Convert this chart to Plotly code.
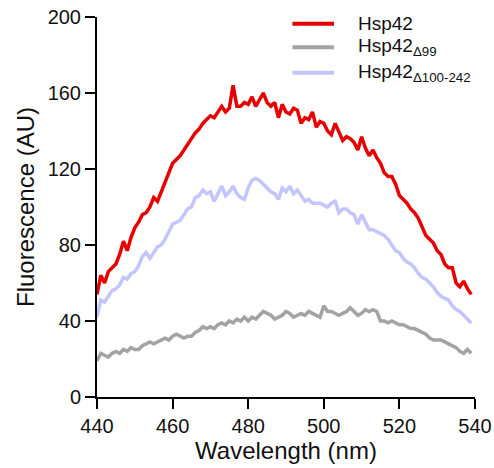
import plotly.graph_objects as go

wavelength = list(range(440, 540))

hsp42 = [54, 64, 60, 66, 68, 70, 75, 82, 77, 84,
         89, 92, 96, 97, 100, 105, 103, 108, 114, 118,
         123, 125, 127, 130, 133, 136, 139, 141, 144, 146,
         148, 147, 150, 153, 150, 152, 164, 153, 153, 155,
         154, 158, 153, 157, 160, 155, 153, 155, 147, 154,
         150, 149, 152, 151, 144, 147, 146, 150, 142, 145,
         144, 140, 138, 144, 139, 135, 137, 136, 134, 130,
         137, 131, 127, 130, 126, 123, 118, 116, 116, 112,
         106, 104, 102, 99, 97, 94, 90, 85, 83, 81,
         77, 75, 70, 68, 68, 60, 58, 61, 57, 54]

hsp42_d99 = [19, 23, 22, 21, 23, 24, 23, 25, 24, 26,
             25, 25, 27, 28, 29, 28, 29, 30, 31, 30,
             32, 33, 32, 31, 32, 32, 34, 35, 37, 36,
             37, 36, 38, 39, 38, 40, 39, 41, 40, 42,
             40, 42, 41, 43, 45, 44, 43, 41, 42, 43,
             45, 44, 42, 43, 44, 43, 45, 44, 43, 42,
             48, 45, 45, 44, 43, 44, 45, 47, 45, 43,
             44, 46, 45, 46, 45, 40, 40, 39, 40, 39,
             38, 38, 37, 36, 36, 35, 34, 33, 31, 30,
             30, 30, 29, 28, 27, 26, 24, 23, 25, 23]

hsp42_d100_242 = [42, 51, 50, 53, 56, 57, 59, 63, 62, 65,
                  66, 69, 74, 76, 73, 76, 79, 80, 83, 87,
                  91, 92, 93, 96, 99, 100, 105, 106, 109, 107,
                  108, 103, 107, 111, 106, 108, 111, 107, 105, 104,
                  110, 114, 115, 114, 112, 110, 108, 107, 104, 110,
                  108, 111, 107, 109, 106, 103, 104, 102, 102, 102,
                  101, 100, 102, 103, 97, 99, 99, 97, 96, 91,
                  96, 92, 88, 88, 87, 86, 85, 83, 80, 77,
                  76, 73, 71, 70, 68, 65, 63, 62, 60, 58,
                  55, 53, 52, 51, 48, 46, 45, 43, 41, 39]

series_names = ["Hsp42", "Hsp42<sub>Δ99</sub>", "Hsp42<sub>Δ100-242</sub>"]
series_colors = ["#e80000", "#a3a3a3", "#c4c4ff"]
series_values = [hsp42, hsp42_d99, hsp42_d100_242]

FONT = "Liberation Sans, Arial, sans-serif"
TXT = "#111111"

fig = go.Figure()
# draw gray and lavender first, red on top
for idx in [1, 2, 0]:
    fig.add_trace(go.Scatter(
        x=wavelength, y=series_values[idx], mode="lines",
        line=dict(color=series_colors[idx], width=3.5),
        name=series_names[idx], showlegend=False, cliponaxis=False,
    ))

# manual legend
leg_y = [196.5, 184.1, 170.6]
for name, color, yy in zip(series_names, series_colors, leg_y):
    fig.add_shape(type="line", xref="x", yref="y", x0=491.7, x1=502.7, y0=yy, y1=yy,
                  line=dict(color=color, width=4))
    fig.add_annotation(xref="x", yref="y", x=508.6, y=yy, text=name, showarrow=False,
                       xanchor="left", yanchor="middle",
                       font=dict(family=FONT, size=19, color=TXT))

fig.update_layout(
    width=494, height=468,
    margin=dict(l=97, r=19, t=17, b=71),
    paper_bgcolor="white", plot_bgcolor="white",
    font=dict(family=FONT, size=20, color=TXT),
    showlegend=False,
)
fig.update_xaxes(
    range=[440, 540], tickvals=[440, 460, 480, 500, 520, 540],
    showline=True, linecolor="black", linewidth=2,
    ticks="outside", ticklen=10, tickwidth=2, tickcolor="black",
    showgrid=False, zeroline=False, automargin=False,
    tickfont=dict(family=FONT, size=20, color=TXT),
    title=dict(text="Wavelength (nm)", font=dict(family=FONT, size=24, color=TXT), standoff=6),
)
fig.update_yaxes(
    range=[0, 200], tickvals=[0, 40, 80, 120, 160, 200],
    showline=True, linecolor="black", linewidth=2,
    ticks="outside", ticklen=10, tickwidth=2, tickcolor="black",
    showgrid=False, zeroline=False, automargin=False,
    tickfont=dict(family=FONT, size=20, color=TXT),
    title=dict(text="Fluorescence (AU)", font=dict(family=FONT, size=24, color=TXT), standoff=6),
)

fig.write_html("out.html")
